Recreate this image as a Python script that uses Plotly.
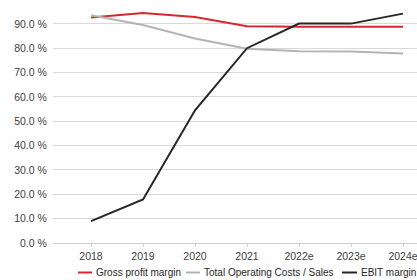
import plotly.graph_objects as go

years = ["2018", "2019", "2020", "2021", "2022e", "2023e", "2024e"]
gross_profit_margin = [92.6, 94.5, 92.8, 89.0, 88.8, 88.8, 88.8]
total_opex_sales = [93.5, 89.5, 84.0, 79.8, 78.8, 78.7, 77.8]
ebit_margin = [9.0, 17.9, 54.5, 80.0, 90.1, 90.1, 94.2]
series_names = ["Gross profit margin", "Total Operating Costs / Sales", "EBIT margin"]
series_colors = ["#d7262e", "#b4b4b4", "#262626"]

W, H = 417, 280
ML, MR, MT, MB = 53, 0, 0, 37
PW, PH = W - ML - MR, H - MT - MB
FONT = "Liberation Sans, Arial, sans-serif"

fig = go.Figure()
for name, vals, col in zip(series_names, [gross_profit_margin, total_opex_sales, ebit_margin], series_colors):
    fig.add_trace(go.Scatter(x=years, y=vals, mode="lines", name=name,
                             line=dict(color=col, width=2), showlegend=False))

def px_x(p):
    return (p - ML) / PW

def px_y(p):
    return (H - MB - p) / PH

# manual legend (line samples + labels)
legend_items = [(78, 92, 95), (186, 200, 203), (342, 357, 360)]
ly = 272.5
shapes = []
annotations = []
for (x0, x1, tx), name, col in zip(legend_items, series_names, series_colors):
    shapes.append(dict(type="line", xref="paper", yref="paper",
                       x0=px_x(x0), x1=px_x(x1), y0=px_y(ly), y1=px_y(ly),
                       line=dict(color=col, width=2)))
    annotations.append(dict(xref="paper", yref="paper", x=px_x(tx), y=px_y(ly),
                            text=name, showarrow=False, xanchor="left", yanchor="middle",
                            xshift=-1,
                            font=dict(family=FONT, size=10, color="#262626")))

fig.update_layout(
    width=W, height=H,
    margin=dict(l=ML, r=MR, t=MT, b=MB),
    paper_bgcolor="white", plot_bgcolor="white",
    font=dict(family=FONT, size=10.5, color="#404040"),
    shapes=shapes, annotations=annotations,
    showlegend=False,
)
fig.update_xaxes(type="category", range=[-0.731, 6.269], showgrid=False,
                 showline=True, linecolor="#d0d0d0", linewidth=1,
                 ticks="outside", ticklen=3, tickcolor="#d0d0d0",
                 tickfont=dict(family=FONT, size=10.5, color="#404040"))
fig.update_yaxes(range=[0, 99.8], dtick=10, tick0=0, tickformat=".1f", ticksuffix=" %",
                 showgrid=True, gridcolor="#d9d9d9", gridwidth=1, zeroline=False,
                 ticks="outside", ticklen=3, tickcolor="rgba(0,0,0,0)",
                 tickfont=dict(family=FONT, size=10.5, color="#404040"))

fig.write_html("out.html", config={"displayModeBar": False},
               post_script="document.body.style.margin='0';document.body.style.overflow='hidden';")
